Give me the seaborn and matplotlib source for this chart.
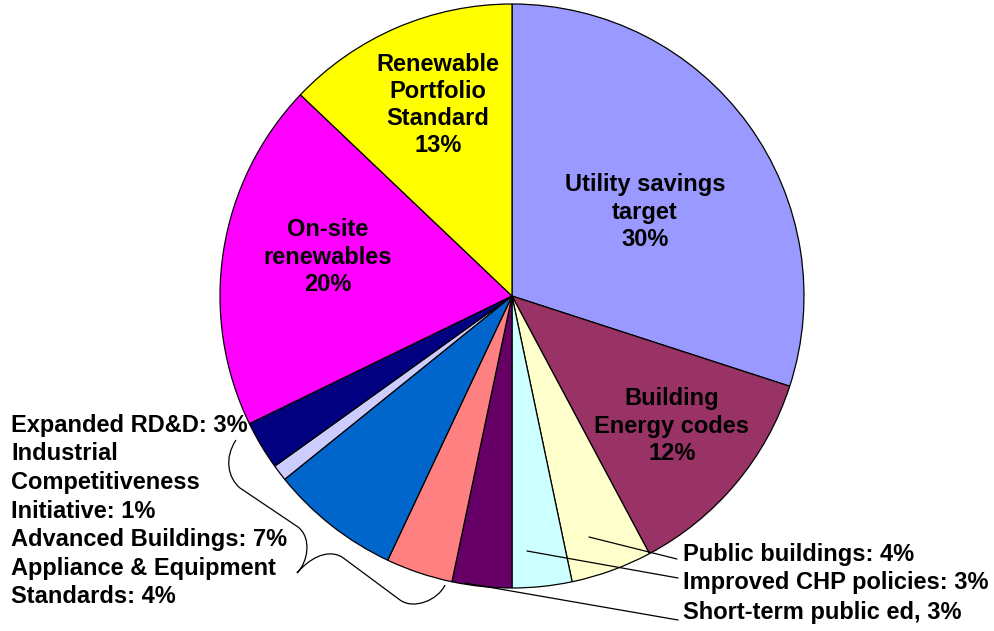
import matplotlib
matplotlib.use("Agg")
import matplotlib.pyplot as plt
import seaborn as sns
from matplotlib.path import Path
from matplotlib.patches import PathPatch

sns.set_theme(style="white")
plt.rcParams['font.family'] = ['Liberation Sans', 'DejaVu Sans']

# Data
categories = ["Utility savings target", "Building Energy codes", "Public buildings",
              "Improved CHP policies", "Short-term public ed", "Appliance & Equipment Standards",
              "Advanced Buildings", "Industrial Competitiveness Initiative", "Expanded RD&D",
              "On-site renewables", "Renewable Portfolio Standard"]
shares = [30.0, 12.2, 4.5, 3.3, 3.3, 3.7, 7.2, 0.9, 2.7, 19.3, 12.9]
pct_labels = ["30%", "12%", "4%", "3%", "3%", "4%", "7%", "1%", "3%", "20%", "13%"]
colors = ["#9999FF", "#993366", "#FFFFCC", "#CCFFFF", "#660066", "#FF8080",
          "#0066CC", "#CCCCFF", "#000080", "#FF00FF", "#FFFF00"]

W, H = 995, 631
fig = plt.figure(figsize=(W / 100, H / 100), dpi=100)
ax = fig.add_axes([0, 0, 1, 1])
ax.set_xlim(0, W)
ax.set_ylim(0, H)
ax.set_aspect('equal')
ax.axis('off')


def P(x, y):
    return (x, H - y)


cx, cy = P(512, 296)
ax.pie(shares, colors=colors, startangle=90, counterclock=False,
       center=(cx, cy), radius=292, frame=True,
       wedgeprops=dict(edgecolor='black', linewidth=0.9))
ax.set_xlim(0, W)
ax.set_ylim(0, H)
ax.axis('off')

fs = 17
kw = dict(fontsize=fs, fontweight='bold', color='black', linespacing=1.24)

# in-slice labels
ax.text(*P(645, 212), "Utility savings\ntarget\n" + pct_labels[0], ha='center', va='center', **kw)
ax.text(*P(672, 426), "Building\nEnergy codes\n" + pct_labels[1], ha='center', va='center', **kw)
ax.text(*P(328, 257), "On-site\nrenewables\n" + pct_labels[9], ha='center', va='center', **kw)
ax.text(*P(438, 105), "Renewable\nPortfolio\nStandard\n" + pct_labels[10], ha='center', va='center', **kw)

# right labels
ax.text(*P(683, 554), "Public buildings: " + pct_labels[2], ha='left', va='center', **kw)
ax.text(*P(683, 583), "Improved CHP policies: " + pct_labels[3], ha='left', va='center', **kw)
ax.text(*P(683, 613), "Short-term public ed, " + pct_labels[4], ha='left', va='center', **kw)

# leader lines
for (x0, y0), (x1, y1) in [((589, 537), (677, 559)), ((527, 551), (678, 578)), ((465, 583), (678, 620))]:
    ax.plot([P(x0, y0)[0], P(x1, y1)[0]], [P(x0, y0)[1], P(x1, y1)[1]], color='black', lw=0.9)

# left grouped label
left_txt = ("Expanded RD&D: " + pct_labels[8] + "\nIndustrial\nCompetitiveness\nInitiative: " + pct_labels[7]
            + "\nAdvanced Buildings: " + pct_labels[6] + "\nAppliance & Equipment\nStandards: " + pct_labels[5])
ax.text(*P(11, 511), left_txt, ha='left', va='center', fontsize=fs, fontweight='bold',
        color='black', linespacing=1.31)

# curly brace
verts = [P(236, 440), P(224, 458), P(228, 478), P(240, 488),
         P(298, 527),
         P(312, 538), P(308, 562), P(297, 573),
         P(308, 560), P(326, 548), P(342, 557),
         P(400, 600),
         P(414, 610), P(438, 600), P(445, 585)]
codes = [Path.MOVETO, Path.CURVE4, Path.CURVE4, Path.CURVE4,
         Path.LINETO,
         Path.CURVE4, Path.CURVE4, Path.CURVE4,
         Path.CURVE4, Path.CURVE4, Path.CURVE4,
         Path.LINETO,
         Path.CURVE4, Path.CURVE4, Path.CURVE4]
ax.add_patch(PathPatch(Path(verts, codes), facecolor='none', edgecolor='black', lw=0.9))

fig.savefig("out.png", dpi=100, facecolor='white')
